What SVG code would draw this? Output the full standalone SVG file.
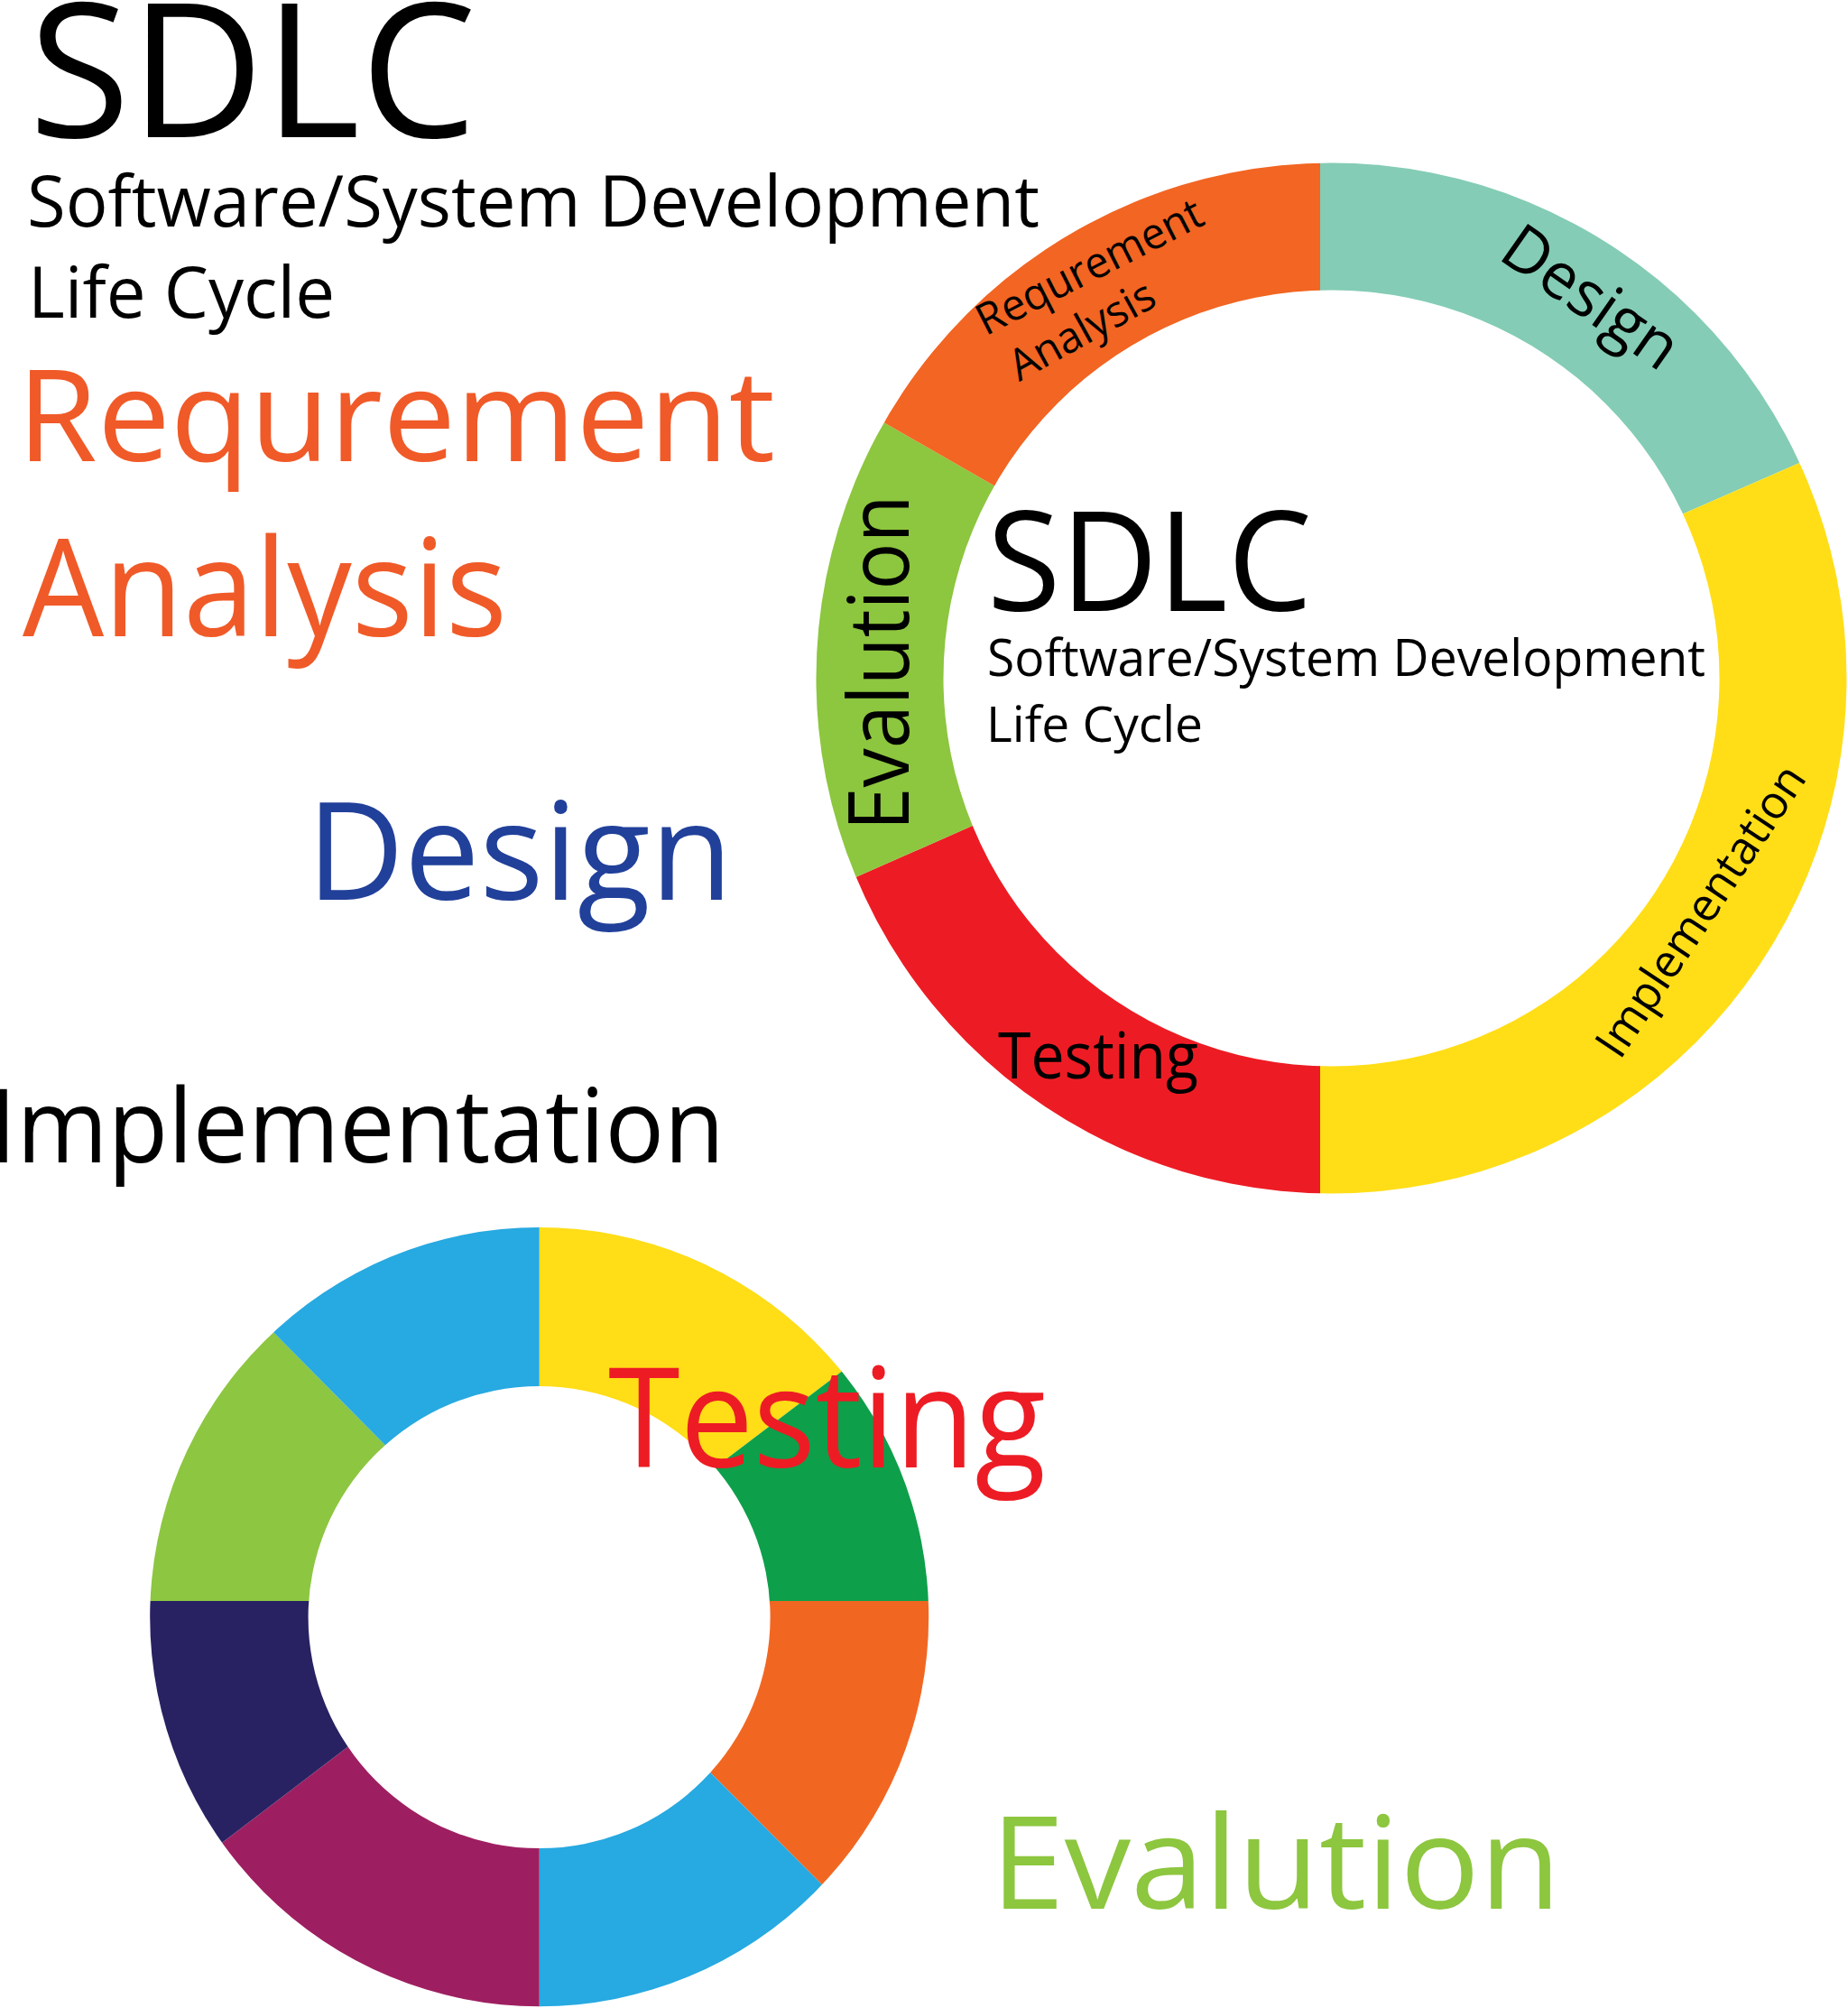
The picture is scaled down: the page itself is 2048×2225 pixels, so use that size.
<svg xmlns="http://www.w3.org/2000/svg" width="2048" height="2225" viewBox="0 0 2048 2225">
<style>
text { font-family: "Open Sans", "Noto Sans", "DejaVu Sans", sans-serif; }
.k { fill: #000000; }
.or { fill: #F05A28; }
.bl { fill: #21409A; }
.rd { fill: #ED1C24; }
.gr { fill: #8DC63F; }
</style>
<defs>
<clipPath id="ring1">
<path clip-rule="evenodd" d="M 904.5 751.5 a 571 571 0 1 0 1142 0 a 571 571 0 1 0 -1142 0 Z M 1045.5 751.5 a 430 430 0 1 0 860 0 a 430 430 0 1 0 -860 0 Z"/>
</clipPath>
<clipPath id="ring2">
<path clip-rule="evenodd" d="M 166.2 1791.5 a 431.5 431.5 0 1 0 863 0 a 431.5 431.5 0 1 0 -863 0 Z M 341.6 1792 a 256 256 0 1 0 512 0 a 256 256 0 1 0 -512 0 Z"/>
</clipPath>
</defs>
<rect x="0" y="0" width="2048" height="2225" fill="#ffffff"/>

<g id="title">
<text class="k" x="32" y="152" font-size="208" textLength="496" lengthAdjust="spacingAndGlyphs">SDLC</text>
<text class="k" x="30" y="251" font-size="78" textLength="1122" lengthAdjust="spacingAndGlyphs">Software/System Development</text>
<text class="k" x="31" y="352" font-size="78" textLength="340" lengthAdjust="spacingAndGlyphs">Life Cycle</text>
</g>

<g id="label-requirement">
<text class="or" x="19" y="511" font-size="141" textLength="840" lengthAdjust="spacingAndGlyphs">Requrement</text>
<text class="or" x="25" y="705" font-size="151" textLength="537" lengthAdjust="spacingAndGlyphs">Analysis</text>
</g>
<g id="label-design">
<text class="bl" x="340" y="997" font-size="151" textLength="472" lengthAdjust="spacingAndGlyphs">Design</text>
</g>
<g id="label-implementation">
<text class="k" x="-12" y="1288" font-size="114" textLength="815" lengthAdjust="spacingAndGlyphs">Implementation</text>
</g>

<g id="ring-phases" clip-path="url(#ring1)">
<polygon fill="#84CCB5" points="1463,745 1463,-155 2287.8,384.7"/>
<polygon fill="#FFDE17" points="1463,745 2287.8,384.7 2217.8,1235.1 1463,1645"/>
<polygon fill="#ED1C24" points="1463,745 1463,1645 639.5,1108.2"/>
<polygon fill="#8DC63F" points="1463,745 639.5,1108.2 682,297.7"/>
<polygon fill="#F26522" points="1463,745 682,297.7 1463,-155"/>
</g>
<g id="ring-labels">
<text class="k" font-size="48" transform="translate(1092.2,372.4) rotate(-27)" textLength="275" lengthAdjust="spacingAndGlyphs">Requrement</text>
<text class="k" font-size="48" transform="translate(1129.5,423.2) rotate(-29)" textLength="177" lengthAdjust="spacingAndGlyphs">Analysis</text>
<text class="k" font-size="71" transform="translate(1658.4,285.6) rotate(35)" textLength="222" lengthAdjust="spacingAndGlyphs">Design</text>
<text class="k" font-size="51" transform="translate(1795.2,1175.5) rotate(-56.4)" textLength="376" lengthAdjust="spacingAndGlyphs">Implementation</text>
<text class="k" x="1106" y="1195" font-size="72" textLength="222" lengthAdjust="spacingAndGlyphs">Testing</text>
<text class="k" font-size="94" transform="translate(1006.7,920.5) rotate(-90)" textLength="372" lengthAdjust="spacingAndGlyphs">Evalution</text>
</g>
<g id="ring-center">
<text class="k" x="1094" y="677" font-size="154" textLength="360" lengthAdjust="spacingAndGlyphs">SDLC</text>
<text class="k" x="1094" y="749" font-size="57" textLength="796" lengthAdjust="spacingAndGlyphs">Software/System Development</text>
<text class="k" x="1093" y="822" font-size="55" textLength="240" lengthAdjust="spacingAndGlyphs">Life Cycle</text>
</g>

<g id="color-wheel" clip-path="url(#ring2)">
<polygon fill="#FFDD17" points="597.7,1774 597.7,1074 1155.3,1350.8"/>
<polygon fill="#0E9F4B" points="597.7,1774 1155.3,1350.8 1297.7,1774"/>
<polygon fill="#F16722" points="597.7,1774 1297.7,1774 1091.8,2269.8"/>
<polygon fill="#27A9E1" points="597.7,1774 1091.8,2269.8 597.7,2474"/>
<polygon fill="#9E1F61" points="597.7,1774 597.7,2474 40.9,2198.2"/>
<polygon fill="#282262" points="597.7,1774 40.9,2198.2 -102.3,1774"/>
<polygon fill="#8DC641" points="597.7,1774 -102.3,1774 105.3,1276.4"/>
<polygon fill="#27A9E1" points="597.7,1774 105.3,1276.4 597.7,1074"/>
</g>

<g id="label-testing">
<text class="rd" x="674" y="1626" font-size="153" textLength="485" lengthAdjust="spacingAndGlyphs">Testing</text>
</g>
<g id="label-evalution">
<text class="gr" x="1098" y="2115" font-size="143" textLength="632" lengthAdjust="spacingAndGlyphs">Evalution</text>
</g>
</svg>
